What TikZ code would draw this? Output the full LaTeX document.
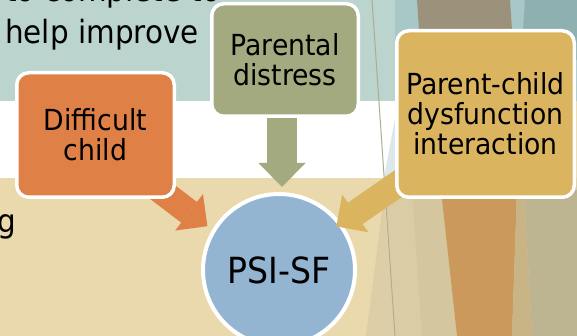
\documentclass[tikz,border=0pt]{standalone}
\usepackage{fontspec}
\setmainfont{DejaVu Sans}[FakeStretch=0.92]
\usetikzlibrary{arrows.meta,calc}
\pgfdeclarelayer{back}
\pgfdeclarelayer{mid}
\pgfsetlayers{back,mid,main}
\definecolor{bgbeige}{HTML}{EAD9AD}
\definecolor{bgteal}{HTML}{BCD4CE}
\definecolor{tealmid}{HTML}{A8C7C7}
\definecolor{tealdark}{HTML}{8FB0B0}
\definecolor{browngray}{HTML}{9C927B}
\definecolor{paleblue}{HTML}{DCE8EB}
\definecolor{tanA}{HTML}{DACDA5}
\definecolor{tanB}{HTML}{D4C7A0}
\definecolor{tanC}{HTML}{DDCEA7}
\definecolor{ochre}{HTML}{CC995C}
\definecolor{strip}{HTML}{C9B485}
\definecolor{olivegray}{HTML}{BDB592}
\definecolor{greyline}{HTML}{B3AA93}
\definecolor{orangebox}{HTML}{DF8046}
\definecolor{olivebox}{HTML}{A4AA7F}
\definecolor{yellowbox}{HTML}{DBB45F}
\definecolor{bluecircle}{HTML}{94B5D2}
\begin{document}
\begin{tikzpicture}[x=1pt,y=-1pt,
  box/.style={draw=white, line width=3.5pt, rounded corners=12pt, inner sep=0pt,
    align=center, text=black, font=\fontsize{29}{30}\selectfont},
  bgtext/.style={inner sep=0pt, text=black, font=\fontsize{32}{38}\selectfont},
  widearrow/.style={line width=30pt, -{Triangle[width=47pt,length=24pt,line width=0pt]}},
  slantarrow/.style={line width=26pt, -{Triangle[width=46pt,length=23pt,line width=0pt]}}]
\useasboundingbox (0,0) rectangle (577,336);
\clip (0,0) rectangle (577,336);
\begin{pgfonlayer}{back}
  % background
  \fill[bgbeige] (0,0) rectangle (577,336);
  \fill[bgteal] (0,0) rectangle (395,101);
  \fill[white] (0,101) rectangle (400,178);
  \fill[paleblue] (384,178) -- (395,118) -- (400,118) -- (400,178) -- cycle;
  \fill[tealmid] (395,0) rectangle (577,101);
  \fill[browngray] (417,0) -- (510,0) -- (514,60) -- (421,60) -- cycle;
  \fill[tealdark] (525,0) -- (577,0) -- (577,60) -- (521,60) -- cycle;
  \fill[tanC] (366,336) -- (384,196) -- (395,336) -- cycle;
  \fill[tanA] (384,178) -- (577,178) -- (577,336) -- (395,336) -- cycle;
  \fill[tanB] (412,190) -- (441,190) -- (457,336) -- (422,336) -- cycle;
  \fill[ochre] (441,190) -- (517,190) -- (512,336) -- (457,336) -- cycle;
  \fill[strip] (517,190) -- (524,190) -- (532,336) -- (512,336) -- cycle;
  \fill[olivegray] (524,190) -- (577,190) -- (577,336) -- (532,336) -- cycle;
  \draw[greyline, line width=1pt] (372,0) -- (395,336);
  % background text
  \node[bgtext, anchor=base west] (t0) at (5,1.5) {to complete to};
  \node[bgtext, anchor=base west] (t1) at (5,44) {help improve};
  \node[bgtext, anchor=base east] (t2) at (16,233) {ing};
  % central circle
  \node[circle, draw=white, line width=4pt, fill=bluecircle, minimum size=152pt,
    inner sep=0pt, text=black, font=\fontsize{36}{40}\selectfont] (psi) at (279,270) {PSI-SF};
\end{pgfonlayer}
% boxes
\node[box, fill=orangebox, minimum width=157.5pt, minimum height=124.5pt] (dc) at (95.5,135) {Difficult\\child};
\node[box, fill=olivebox, minimum width=146.5pt, minimum height=112.5pt] (pd) at (285,60) {Parental\\distress};
\node[box, fill=yellowbox, minimum width=177.5pt, minimum height=166.5pt] (pcd) at (485.5,114) {Parent-child\\dysfunction\\interaction};
% arrows
\begin{pgfonlayer}{mid}
  \draw[widearrow, olivebox, shorten >=5pt] ($(pd.south)+(-3,0)$) -- ($(pd.south |- psi.north)+(-3,0)$);
  \draw[slantarrow, orangebox, shorten >=6pt] ($(dc.south east)+(-32,-21)$) -- (psi.149);
  \draw[slantarrow, yellowbox, shorten >=-6pt] ($(pcd.south west)+(10,-20)$) -- (psi.37);
\end{pgfonlayer}
\end{tikzpicture}
\end{document}
